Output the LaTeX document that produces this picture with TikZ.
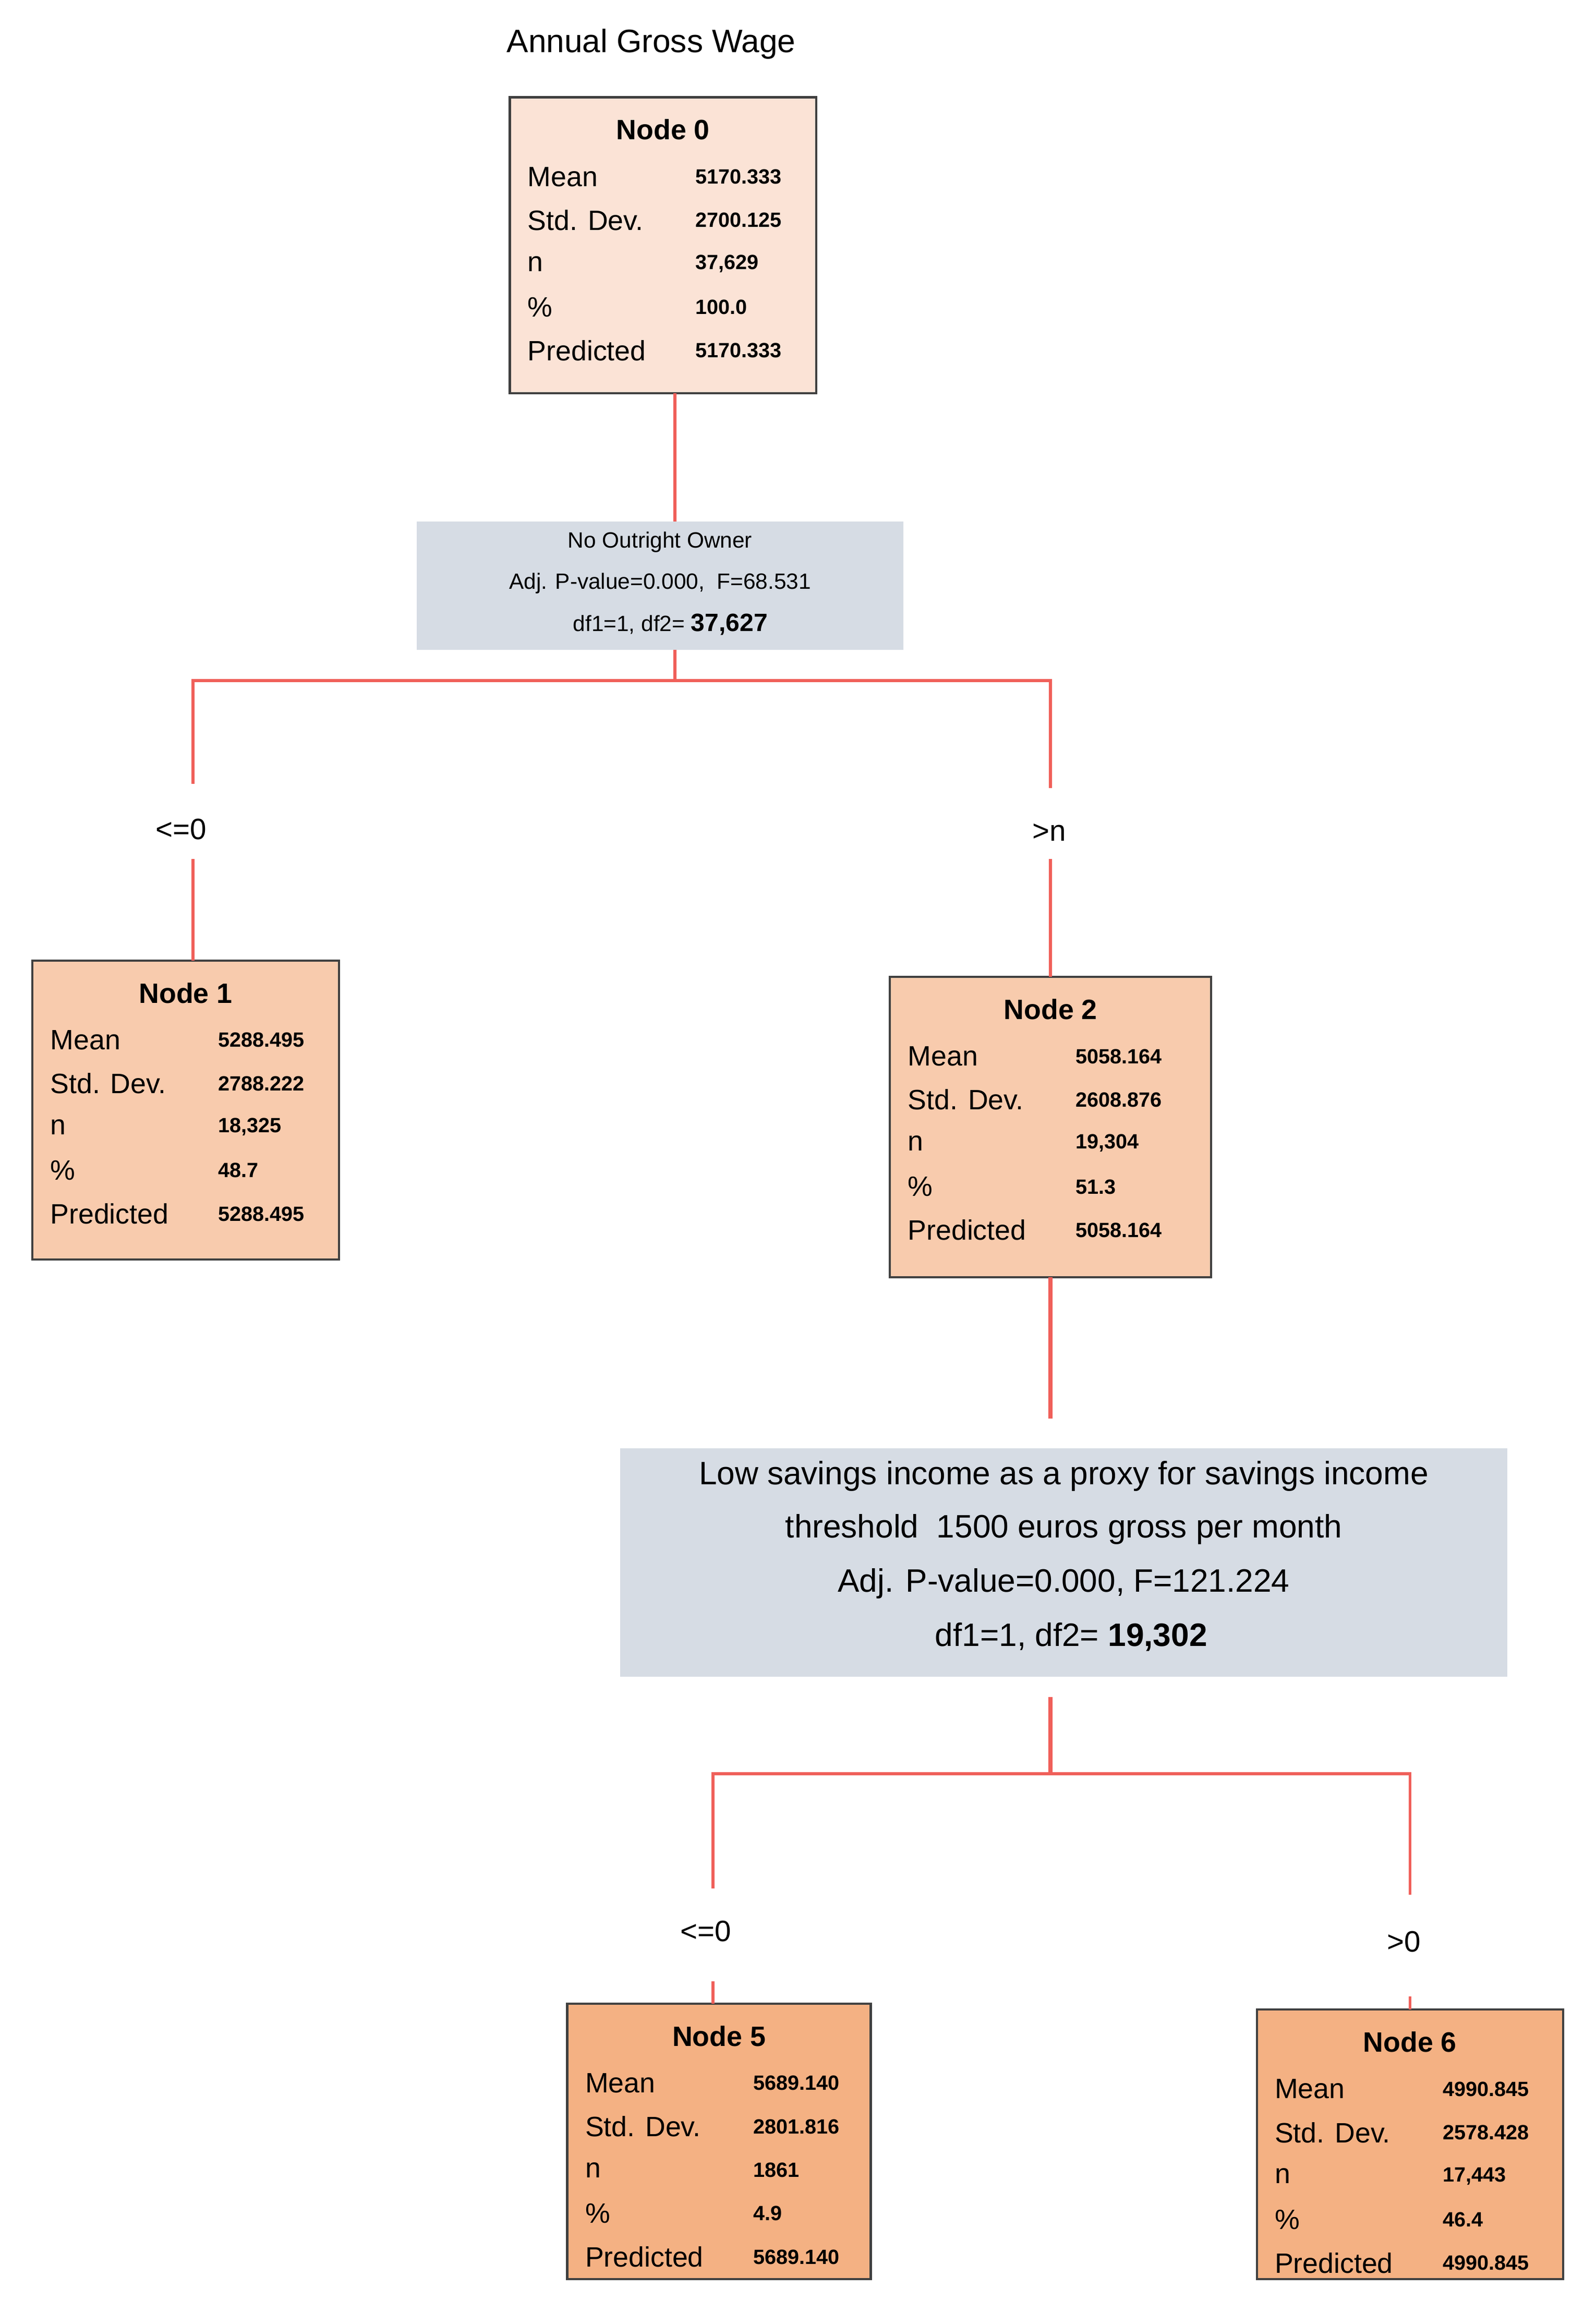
\documentclass[tikz,border=0pt]{standalone}
\usepackage{fontspec}
\setmainfont{Liberation Sans}
\definecolor{redl}{HTML}{F0605A}
\definecolor{pzero}{HTML}{FBE3D6}
\definecolor{pone}{HTML}{F8CBAD}
\definecolor{ptwo}{HTML}{F4B183}
\definecolor{splitc}{HTML}{D6DCE4}
\definecolor{bord}{HTML}{404040}
\newcommand\wbox[7]{%
  \path[draw=bord,line width=1.5pt,fill=#6] (#2,#3) rectangle (#4,#5);
  \node[ttl] (#1t) at ({(#2+#4)/2},{#3+22}) {#7};}
\newcommand\wrow[6]{%
  \node[lab] (#1l#6) at ({#2+12},{#3+54+29.5*#6}) {#4};
  \node[val] (#1v#6) at ({#2+126},{#3+54+29.5*#6}) {#5};}
\begin{document}
\begin{tikzpicture}[x=1pt,y=-1pt,
  con/.style={draw=redl,line width=2pt},
  lab/.style={anchor=west,inner sep=0pt,font=\fontsize{19}{20}\selectfont},
  val/.style={anchor=west,inner sep=0pt,font=\bfseries\fontsize{14}{15}\selectfont},
  ttl/.style={inner sep=0pt,font=\bfseries\fontsize{19}{20}\selectfont},
  cond/.style={inner sep=1pt,font=\fontsize{20}{22}\selectfont}]
\useasboundingbox (0,0) rectangle (1083,1570);
\node[font=\fontsize{22}{24}\selectfont] (title) at (442,30) {Annual Gross Wage};
\wbox{nA}{346}{66}{554}{267}{pzero}{Node 0}
\wrow{nA}{346}{66}{Mean}{5170.333}{0}
\wrow{nA}{346}{66}{Std. Dev.}{2700.125}{1}
\wrow{nA}{346}{66}{n}{37,629}{2}
\wrow{nA}{346}{66}{\%}{100.0}{3}
\wrow{nA}{346}{66}{Predicted}{5170.333}{4}
\wbox{nB}{22}{652}{230}{855}{pone}{Node 1}
\wrow{nB}{22}{652}{Mean}{5288.495}{0}
\wrow{nB}{22}{652}{Std. Dev.}{2788.222}{1}
\wrow{nB}{22}{652}{n}{18,325}{2}
\wrow{nB}{22}{652}{\%}{48.7}{3}
\wrow{nB}{22}{652}{Predicted}{5288.495}{4}
\wbox{nC}{604}{663}{822}{867}{pone}{Node 2}
\wrow{nC}{604}{663}{Mean}{5058.164}{0}
\wrow{nC}{604}{663}{Std. Dev.}{2608.876}{1}
\wrow{nC}{604}{663}{n}{19,304}{2}
\wrow{nC}{604}{663}{\%}{51.3}{3}
\wrow{nC}{604}{663}{Predicted}{5058.164}{4}
\wbox{nD}{385}{1360}{591}{1547}{ptwo}{Node 5}
\wrow{nD}{385}{1360}{Mean}{5689.140}{0}
\wrow{nD}{385}{1360}{Std. Dev.}{2801.816}{1}
\wrow{nD}{385}{1360}{n}{1861}{2}
\wrow{nD}{385}{1360}{\%}{4.9}{3}
\wrow{nD}{385}{1360}{Predicted}{5689.140}{4}
\wbox{nE}{853}{1364}{1061}{1547}{ptwo}{Node 6}
\wrow{nE}{853}{1364}{Mean}{4990.845}{0}
\wrow{nE}{853}{1364}{Std. Dev.}{2578.428}{1}
\wrow{nE}{853}{1364}{n}{17,443}{2}
\wrow{nE}{853}{1364}{\%}{46.4}{3}
\wrow{nE}{853}{1364}{Predicted}{4990.845}{4}
% split 1
\path[fill=splitc] (283,354) rectangle (613,441);
\node[font=\fontsize{15}{16}\selectfont] (sAa) at (448,368) {No Outright Owner};
\node[font=\fontsize{15}{16}\selectfont] (sAb) at (448,396) {Adj. P-value=0.000,\ \ F=68.531};
\node[font=\fontsize{15}{16}\selectfont] (sAc) at (455,424) {df1=1, df2= \textbf{\fontsize{17}{18}\selectfont 37,627}};
% split 2
\path[fill=splitc] (421,983) rectangle (1023,1138);
\node[font=\fontsize{22}{24}\selectfont] (sBa) at (722,1002) {Low savings income as a proxy for savings income};
\node[font=\fontsize{22}{24}\selectfont] (sBb) at (722,1038) {threshold\ \ 1500 euros gross per month};
\node[font=\fontsize{22}{24}\selectfont] (sBc) at (722,1075) {Adj. P-value=0.000, F=121.224};
\node[font=\fontsize{22}{24}\selectfont] (sBd) at (727,1111) {df1=1, df2= \textbf{19,302}};
% conditions
\node[cond] (cA) at (123,563) {<=0};
\node[cond] (cB) at (712,565) {>n};
\node[cond] (cC) at (479,1311) {<=0};
\node[cond] (cD) at (953,1318) {>0};
% coordinates
\coordinate (nAbot) at (458,267);
\coordinate (tA) at (458,354);
\coordinate (uA) at (458,441);
\coordinate (jA) at (458,462);
\coordinate (jAl) at (131,462);
\coordinate (jAr) at (713,462);
\coordinate (aB) at (131,532);
\coordinate (bB) at (131,583);
\coordinate (nBtop) at (131,652);
\coordinate (aC) at (713,535);
\coordinate (bC) at (713,583);
\coordinate (nCtop) at (713,663);
\coordinate (nCbot) at (713,867);
\coordinate (kC) at (713,963);
\coordinate (mC) at (713,1152);
\coordinate (jB) at (713,1204);
\coordinate (jBl) at (484,1204);
\coordinate (jBr) at (957,1204);
\coordinate (aD) at (484,1282);
\coordinate (bD) at (484,1345);
\coordinate (nDtop) at (484,1360);
\coordinate (aE) at (957,1286);
\coordinate (bE) at (957,1355);
\coordinate (nEtop) at (957,1364);
% connectors
\draw[con] (nAbot) -- (tA);
\draw[con] (uA) -- (jA) -- (jAl) -- (aB);
\draw[con] (jA) -- (jAr) -- (aC);
\draw[con] (bB) -- (nBtop);
\draw[con] (bC) -- (nCtop);
\draw[con,line width=3pt] (nCbot) -- (kC);
\draw[con,line width=3pt] (mC) -- (jB);
\draw[con] (jB) -- (jBl) -- (aD);
\draw[con] (jB) -- (jBr) -- (aE);
\draw[con] (bD) -- (nDtop);
\draw[con] (bE) -- (nEtop);
\end{tikzpicture}
\end{document}
